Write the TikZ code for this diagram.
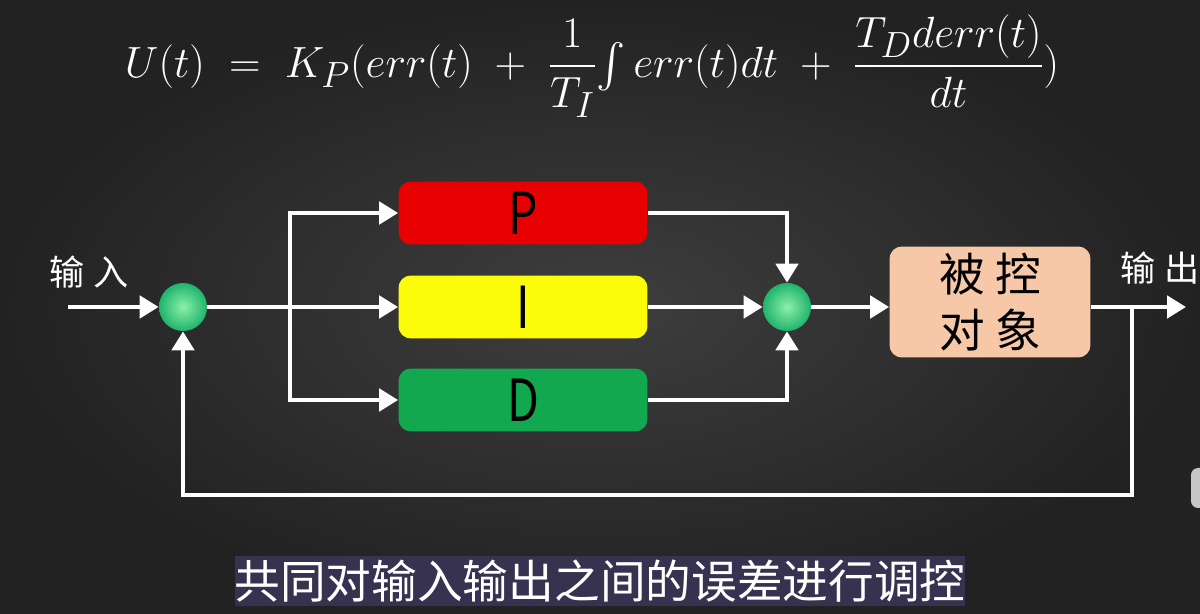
\documentclass[tikz,border=0pt]{standalone}
\usepackage{amsmath}
\usepackage{fontspec}
\usepackage{tikz}
\usetikzlibrary{arrows.meta,positioning,calc,shadings}
\newfontfamily\cjk{Noto Sans CJK SC}
\definecolor{bgmid}{HTML}{3E3E3E}
\definecolor{bgdark}{HTML}{222222}
\definecolor{pred}{HTML}{E80000}
\definecolor{pyellow}{HTML}{FCFC0A}
\definecolor{pgreen}{HTML}{12A850}
\definecolor{peach}{HTML}{F6C8A8}
\definecolor{balllight}{HTML}{8CF0A8}
\definecolor{balldark}{HTML}{1FB46C}
\definecolor{subbg}{HTML}{363250}
\tikzset{blk/.style={rounded corners=7pt,minimum width=4.98cm,minimum height=1.26cm,inner sep=0pt,font=\cjk\fontsize{33}{33}\selectfont,text=black},
 sumpt/.style={circle,minimum size=0.96cm,inner sep=0pt,inner color=balllight,outer color=balldark},
 wire/.style={draw=white,line width=2.8pt},
 arr/.style={wire,-{Triangle[length=0.38cm,width=0.44cm]}},
 lbl/.style={text=white,font=\cjk\fontsize{20}{20}\selectfont}}

\begin{document}
\begin{tikzpicture}[x=0.02cm,y=-0.02cm]
\useasboundingbox (0,0) rectangle (1200,614);
\shade[inner color=bgmid,outer color=bgdark] (0,0) rectangle (1200,614);
\fill[gray!45,rounded corners=4pt] (1191,468) rectangle (1212,508);
% formula
\node[text=white,font=\fontsize{32}{36}\selectfont,inner sep=0pt] (formula) at (592,66)
 {$U(t) \;=\; K_P(err(t) \;+\; \dfrac{1}{T_I}\!\int err(t)dt \;+\; \dfrac{T_D derr(t)}{dt})$};
% blocks
\foreach \n/\c/\t/\y in {pbox/pred/P/213,ibox/pyellow/I/307,dbox/pgreen/D/400}
 {\node[blk,fill=\c] (\n) at (523,\y) {\scalebox{0.8}[1]{\t}};}
\node[blk,fill=peach,minimum width=4.02cm,minimum height=2.22cm,font=\cjk\fontsize{26}{30}\selectfont,align=center] (plant) at (990,302) {被\hspace{6pt}控\\[2pt]对\hspace{6pt}象};
\node[sumpt] (sumin) at (183,307) {};
\node[sumpt] (sumout) at (787,307) {};
\node[lbl] (inlbl) at (89,272) {输\hspace{5pt}入};
\node[lbl] (outlbl) at (1160,268) {输\hspace{5pt}出};
% connectors
\coordinate (inp) at (68,307);
\coordinate (br) at (290,307);
\coordinate (tap) at (1132,307);
\coordinate (outend) at (1186,307);
\coordinate (fb) at (1132,495);
\draw[arr] (inp) -- (sumin.west);
\draw[wire] (sumin.east) -- (br);
\draw[arr] (br) |- (pbox.west);
\draw[arr] (br) -- (ibox.west);
\draw[arr] (br) |- (dbox.west);
\draw[arr] (pbox.east) -| (sumout.north);
\draw[arr] (ibox.east) -- (sumout.west);
\draw[arr] (dbox.east) -| (sumout.south);
\draw[arr] (sumout.east) -- (sumout.east -| plant.west);
\draw[arr] (plant.east |- outend) -- (outend);
\draw[arr] (tap) -- (fb) -| (sumin.south);
% subtitle
\node[fill=subbg,text=white,font=\cjk\fontsize{26}{26}\selectfont,minimum width=14.52cm,minimum height=1.02cm,inner sep=0pt] (sub) at (600,581) {共同对输入输出之间的误差进行调控};
\end{tikzpicture}
\end{document}
